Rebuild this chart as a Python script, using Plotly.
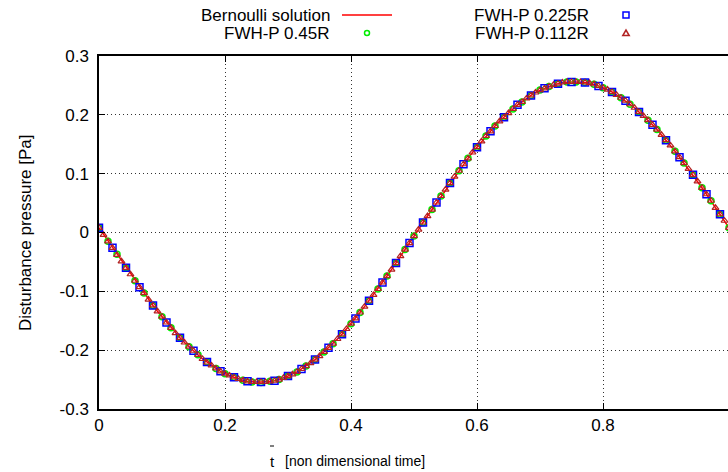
import plotly.graph_objects as go

# ---------------- data ----------------
T_STEP = 1 / 140  # sampling step of the finest series (non dimensional time)

bernoulli = [
    0.008, -0.003, -0.015, -0.026, -0.037, -0.049, -0.060, -0.071, -0.082, -0.093,
    -0.103, -0.114, -0.124, -0.134, -0.143, -0.153, -0.162, -0.170, -0.179, -0.187,
    -0.194, -0.201, -0.208, -0.215, -0.220, -0.226, -0.231, -0.236, -0.240, -0.243,
    -0.246, -0.249, -0.251, -0.253, -0.254, -0.254, -0.254, -0.254, -0.253, -0.252,
    -0.250, -0.247, -0.244, -0.241, -0.237, -0.232, -0.227, -0.222, -0.216, -0.210,
    -0.203, -0.196, -0.189, -0.181, -0.173, -0.164, -0.155, -0.146, -0.136, -0.126,
    -0.116, -0.106, -0.096, -0.085, -0.074, -0.063, -0.052, -0.040, -0.029, -0.018,
    -0.006, 0.005, 0.017, 0.028, 0.039, 0.051, 0.062, 0.073, 0.084, 0.095,
    0.105, 0.116, 0.126, 0.136, 0.145, 0.155, 0.164, 0.172, 0.181, 0.189,
    0.196, 0.203, 0.210, 0.217, 0.222, 0.228, 0.233, 0.238, 0.242, 0.245,
    0.248, 0.251, 0.253, 0.255, 0.256, 0.256, 0.256, 0.256, 0.255, 0.254,
    0.252, 0.249, 0.246, 0.243, 0.239, 0.234, 0.229, 0.224, 0.218, 0.212,
    0.205, 0.198, 0.191, 0.183, 0.175, 0.166, 0.157, 0.148, 0.138, 0.128,
    0.118, 0.108, 0.098, 0.087, 0.076, 0.065, 0.054, 0.042, 0.031, 0.020,
    0.008,
]

fwh_0112 = [
    0.008, -0.004, -0.015, -0.026, -0.038, -0.049, -0.060, -0.071, -0.082, -0.093,
    -0.103, -0.114, -0.124, -0.134, -0.143, -0.153, -0.162, -0.171, -0.179, -0.187,
    -0.194, -0.201, -0.208, -0.215, -0.221, -0.226, -0.231, -0.236, -0.240, -0.243,
    -0.246, -0.249, -0.251, -0.253, -0.254, -0.254, -0.254, -0.254, -0.253, -0.252,
    -0.250, -0.247, -0.244, -0.241, -0.237, -0.232, -0.227, -0.222, -0.216, -0.210,
    -0.203, -0.196, -0.189, -0.181, -0.173, -0.164, -0.155, -0.146, -0.136, -0.126,
    -0.116, -0.106, -0.096, -0.085, -0.074, -0.063, -0.052, -0.040, -0.029, -0.018,
    -0.006, 0.005, 0.017, 0.028, 0.039, 0.051, 0.062, 0.073, 0.084, 0.095,
    0.105, 0.116, 0.126, 0.136, 0.145, 0.155, 0.164, 0.172, 0.181, 0.189,
    0.196, 0.203, 0.210, 0.217, 0.222, 0.228, 0.233, 0.238, 0.242, 0.245,
    0.248, 0.251, 0.253, 0.255, 0.256, 0.256, 0.256, 0.256, 0.255, 0.254,
    0.252, 0.249, 0.246, 0.243, 0.239, 0.234, 0.229, 0.224, 0.218, 0.212,
    0.205, 0.198, 0.191, 0.183, 0.175, 0.166, 0.157, 0.148, 0.138, 0.128,
    0.118, 0.108, 0.098, 0.087, 0.076, 0.065, 0.054, 0.042, 0.031, 0.020,
    0.008,
]

fwh_045 = [
    0.008, -0.015, -0.037, -0.060, -0.082, -0.103, -0.124, -0.143, -0.162, -0.179,
    -0.194, -0.208, -0.220, -0.231, -0.240, -0.246, -0.251, -0.254, -0.255, -0.253,
    -0.250, -0.244, -0.237, -0.227, -0.216, -0.203, -0.189, -0.173, -0.155, -0.136,
    -0.116, -0.096, -0.074, -0.052, -0.029, -0.006, 0.017, 0.039, 0.062, 0.084,
    0.105, 0.126, 0.145, 0.164, 0.181, 0.196, 0.210, 0.222, 0.233, 0.242,
    0.248, 0.253, 0.256, 0.256, 0.255, 0.252, 0.246, 0.239, 0.229, 0.218,
    0.205, 0.191, 0.175, 0.157, 0.138, 0.118, 0.098, 0.076, 0.054, 0.031,
    0.008,
]

fwh_0225 = [
    0.008, -0.026, -0.060, -0.093, -0.124, -0.153, -0.179, -0.201, -0.220, -0.236,
    -0.246, -0.253, -0.254, -0.252, -0.244, -0.232, -0.216, -0.196, -0.173, -0.146,
    -0.116, -0.085, -0.052, -0.018, 0.017, 0.051, 0.084, 0.116, 0.145, 0.172,
    0.196, 0.217, 0.233, 0.245, 0.253, 0.256, 0.255, 0.249, 0.239, 0.224,
    0.205, 0.183, 0.157, 0.128, 0.098, 0.065, 0.031,
]

x_tickvals = [0, 0.2, 0.4, 0.6, 0.8]
x_ticktext = ["0", "0.2", "0.4", "0.6", "0.8"]
y_tickvals = [-0.3, -0.2, -0.1, 0, 0.1, 0.2, 0.3]
y_ticktext = ["-0.3", "-0.2", "-0.1", "0", "0.1", "0.2", "0.3"]

names = ["Bernoulli solution", "FWH-P 0.45R", "FWH-P 0.225R", "FWH-P 0.112R"]

t_line = [i * T_STEP for i in range(len(bernoulli))]
t_0112 = [i * T_STEP for i in range(len(fwh_0112))]
t_045 = [2 * i * T_STEP for i in range(len(fwh_045))]
t_0225 = [3 * i * T_STEP for i in range(len(fwh_0225))]

RED = "#ff0000"
GREEN = "#00ee00"
BLUE = "#0000ff"
BROWN = "#b22222"

FONT = "Liberation Sans, Arial, Helvetica, sans-serif"

fig = go.Figure()
fig.add_trace(go.Scatter(x=t_line, y=bernoulli, mode="lines", name=names[0],
                         line=dict(color=RED, width=1.5)))
fig.add_trace(go.Scatter(x=t_045, y=fwh_045, mode="markers", name=names[1],
                         marker=dict(symbol="circle-open", size=6, color=GREEN,
                                     line=dict(width=1.5, color=GREEN))))
fig.add_trace(go.Scatter(x=t_0225, y=fwh_0225, mode="markers", name=names[2],
                         marker=dict(symbol="square-open", size=7, color=BLUE,
                                     line=dict(width=1.5, color=BLUE))))
fig.add_trace(go.Scatter(x=t_0112, y=fwh_0112, mode="markers", name=names[3],
                         marker=dict(symbol="triangle-up-open", size=6, color=BROWN,
                                     line=dict(width=1.2, color=BROWN))))

W, H = 728, 472
ML, MR, MT, MB = 99, 0, 56, 63
PW, PH = W - ML - MR, H - MT - MB


def px(xp):
    return (xp - ML) / PW


def py(yp):
    return (H - MB - yp) / PH


axis_common = dict(
    showgrid=True, gridcolor="#333333", griddash="1px,3px", gridwidth=1,
    ticks="inside", ticklen=6, tickwidth=1, tickcolor="black",
    showline=True, linecolor="black", linewidth=1.5,
    zeroline=False, tickfont=dict(family=FONT, size=17, color="black"),
)

fig.update_layout(
    width=W, height=H,
    margin=dict(l=ML, r=MR, t=MT, b=MB, pad=0),
    paper_bgcolor="white", plot_bgcolor="white",
    showlegend=False,
    font=dict(family=FONT, size=17, color="black"),
    xaxis=dict(range=[0, PW / 630], tickvals=x_tickvals, ticktext=x_ticktext,
               mirror="ticks", **axis_common),
    yaxis=dict(range=[-0.3, 0.3], tickvals=y_tickvals, ticktext=y_ticktext,
               mirror=False, ticklabelstandoff=5, **axis_common),
)

annotations = []
shapes = []

# axis titles
annotations.append(dict(text="Disturbance pressure [Pa]", xref="paper", yref="paper",
                        x=px(25), y=py(233), textangle=-90, showarrow=False,
                        xanchor="center", yanchor="middle",
                        font=dict(family=FONT, size=17)))
annotations.append(dict(text="t", xref="paper", yref="paper", x=px(272), y=py(461),
                        showarrow=False, xanchor="center", yanchor="middle",
                        font=dict(family=FONT, size=15)))
# bar over the t
shapes.append(dict(type="line", xref="paper", yref="paper",
                   x0=px(270), x1=px(274), y0=py(446), y1=py(446),
                   line=dict(color="black", width=1)))
annotations.append(dict(text="[non dimensional time]", xref="paper", yref="paper",
                        x=px(283), y=py(461), showarrow=False, xanchor="left",
                        yanchor="middle",
                        font=dict(family=FONT, size=14)))

# legend (text right-justified, sample to the right, as in the reference)
leg = [
    (names[0], 332, 15, 367, "line", RED),
    (names[2], 591, 15, 626, "square", BLUE),
    (names[1], 332, 33, 367, "circle", GREEN),
    (names[3], 591, 33, 626, "triangle", BROWN),
]
for text, tx, ty, sx, kind, col in leg:
    annotations.append(dict(text=text, xref="paper", yref="paper", x=px(tx), y=py(ty),
                            showarrow=False, xanchor="right", yanchor="middle",
                            font=dict(family=FONT, size=17)))
    if kind == "line":
        shapes.append(dict(type="line", xref="paper", yref="paper",
                           x0=px(sx - 25), x1=px(sx + 25), y0=py(ty), y1=py(ty),
                           line=dict(color=col, width=1.5)))
    else:
        base = dict(xref="paper", yref="paper", xsizemode="pixel", ysizemode="pixel",
                    xanchor=px(sx), yanchor=py(ty), line=dict(color=col, width=1.5))
        if kind == "square":
            shapes.append(dict(type="rect", x0=-3, x1=3, y0=-3, y1=3, **base))
        elif kind == "circle":
            shapes.append(dict(type="circle", x0=-2.5, x1=2.5, y0=-2.5, y1=2.5, **base))
        else:
            shapes.append(dict(type="path", path="M -3.2,-2.5 L 3.2,-2.5 L 0,3 Z", **base))

fig.update_layout(annotations=annotations, shapes=shapes)

fig.write_html("out.html")
